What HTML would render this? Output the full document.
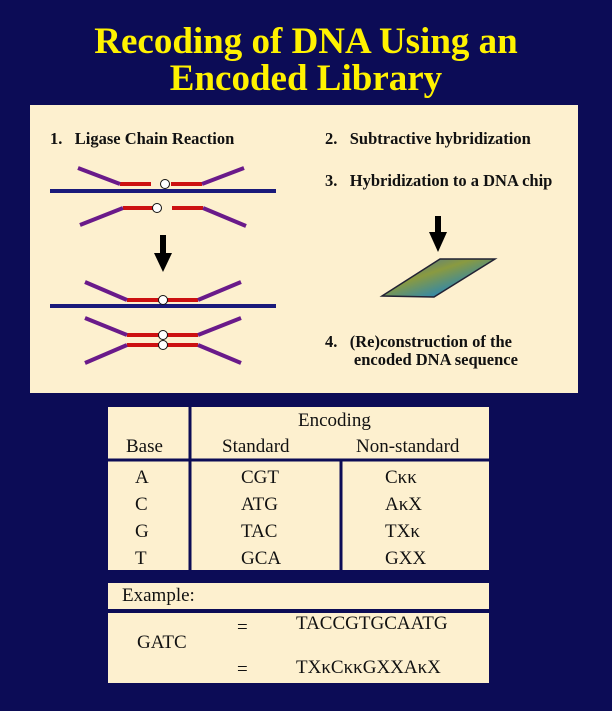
<!DOCTYPE html>
<html><head><style>
body{margin:0;width:612px;height:711px;background:#0c0c56;position:relative;overflow:hidden;font-family:"Liberation Serif",serif;}
.t{position:absolute;left:0;width:612px;text-align:center;color:#fff200;font-weight:bold;font-size:37px;}
.box{position:absolute;background:#fdf0cf;}
.l{position:absolute;font-size:16.5px;font-weight:bold;color:#111;white-space:nowrap;}
.c{position:absolute;font-size:19px;color:#111;white-space:nowrap;}
</style></head><body>
<div class="t" style="top:20px">Recoding of DNA Using an</div>
<div class="t" style="top:57px">Encoded Library</div>
<div class="box" style="left:30px;top:105px;width:548px;height:288px"></div>
<div class="l" style="left:50px;top:129px">1.&nbsp;&nbsp; Ligase Chain Reaction</div>
<div class="l" style="left:325px;top:129px">2.&nbsp;&nbsp; Subtractive hybridization</div>
<div class="l" style="left:325px;top:171px">3.&nbsp;&nbsp; Hybridization to a DNA chip</div>
<div class="l" style="left:325px;top:333px;line-height:18px">4.&nbsp;&nbsp; (Re)construction of the<br>&nbsp;&nbsp;&nbsp;&nbsp;&nbsp;&nbsp; encoded DNA sequence</div>
<svg style="position:absolute;left:0;top:0" width="612" height="711">
<defs><linearGradient id="g" x1="0" y1="0" x2="1" y2="1"><stop offset="0" stop-color="#3a6ab0"/><stop offset=".4" stop-color="#8a9a40"/><stop offset=".7" stop-color="#3a8aa0"/><stop offset="1" stop-color="#2a4a90"/></linearGradient></defs>
<g stroke-width="4" fill="none">
<line x1="50" y1="191" x2="276" y2="191" stroke="#1a1a7a"/>
<line x1="50" y1="306" x2="276" y2="306" stroke="#1a1a7a"/>
<g stroke="#cc1111">
<line x1="120" y1="184" x2="151" y2="184"/><line x1="171" y1="184" x2="202" y2="184"/>
<line x1="123" y1="208" x2="155" y2="208"/><line x1="172" y1="208" x2="203" y2="208"/>
<line x1="127" y1="300" x2="198" y2="300"/>
<line x1="127" y1="335" x2="198" y2="335"/><line x1="127" y1="345" x2="198" y2="345"/>
</g>
<g stroke="#6a1a8a">
<line x1="78" y1="168" x2="120" y2="184"/><line x1="202" y1="184" x2="244" y2="168"/>
<line x1="80" y1="225" x2="123" y2="208"/><line x1="203" y1="208" x2="246" y2="226"/>
<line x1="85" y1="282" x2="127" y2="300"/><line x1="198" y1="300" x2="241" y2="282"/>
<line x1="85" y1="318" x2="127" y2="335"/><line x1="198" y1="335" x2="241" y2="318"/>
<line x1="85" y1="363" x2="127" y2="345"/><line x1="198" y1="345" x2="241" y2="363"/>
</g>
</g>
<g fill="#fff" stroke="#111" stroke-width="1">
<circle cx="165" cy="184" r="4.5"/><circle cx="157" cy="208" r="4.5"/><circle cx="163" cy="300" r="4.5"/><circle cx="163" cy="335" r="4.5"/><circle cx="163" cy="345" r="4.5"/>
</g>
<rect x="160" y="235" width="6" height="20" fill="#000"/><polygon points="154,253 172,253 163,272" fill="#000"/>
<rect x="435" y="216" width="6" height="18" fill="#000"/><polygon points="429,232 447,232 438,252" fill="#000"/>
<polygon points="382,296 440,259 495,259 434,297" fill="url(#g)" stroke="#223" stroke-width="1.5"/>
</svg>
<div class="box" style="left:108px;top:407px;width:381px;height:163px"></div>
<svg style="position:absolute;left:0;top:0" width="612" height="711">
<line x1="190" y1="407" x2="190" y2="570" stroke="#0c0c56" stroke-width="3"/>
<line x1="108" y1="460" x2="489" y2="460" stroke="#0c0c56" stroke-width="3"/>
<line x1="341" y1="460" x2="341" y2="570" stroke="#0c0c56" stroke-width="3"/>
</svg>
<div class="c" style="left:298px;top:410px">Encoding</div>
<div class="c" style="left:126px;top:436px">Base</div>
<div class="c" style="left:222px;top:436px">Standard</div>
<div class="c" style="left:356px;top:436px">Non-standard</div>
<div class="c" style="left:135px;top:464px;line-height:27px">A<br>C<br>G<br>T</div>
<div class="c" style="left:241px;top:464px;line-height:27px">CGT<br>ATG<br>TAC<br>GCA</div>
<div class="c" style="left:385px;top:464px;line-height:27px">C&#954;&#954;<br>A&#954;X<br>TX&#954;<br>GXX</div>
<div class="box" style="left:108px;top:583px;width:381px;height:26px"></div>
<div class="c" style="left:122px;top:585px">Example:</div>
<div class="box" style="left:108px;top:613px;width:381px;height:70px"></div>
<div class="c" style="left:137px;top:632px">GATC</div>
<div class="c" style="left:237px;top:617px">=</div>
<div class="c" style="left:237px;top:659px">=</div>
<div class="c" style="left:296px;top:613px">TACCGTGCAATG</div>
<div class="c" style="left:296px;top:657px">TX&#954;C&#954;&#954;GXXA&#954;X</div>
</body></html>
